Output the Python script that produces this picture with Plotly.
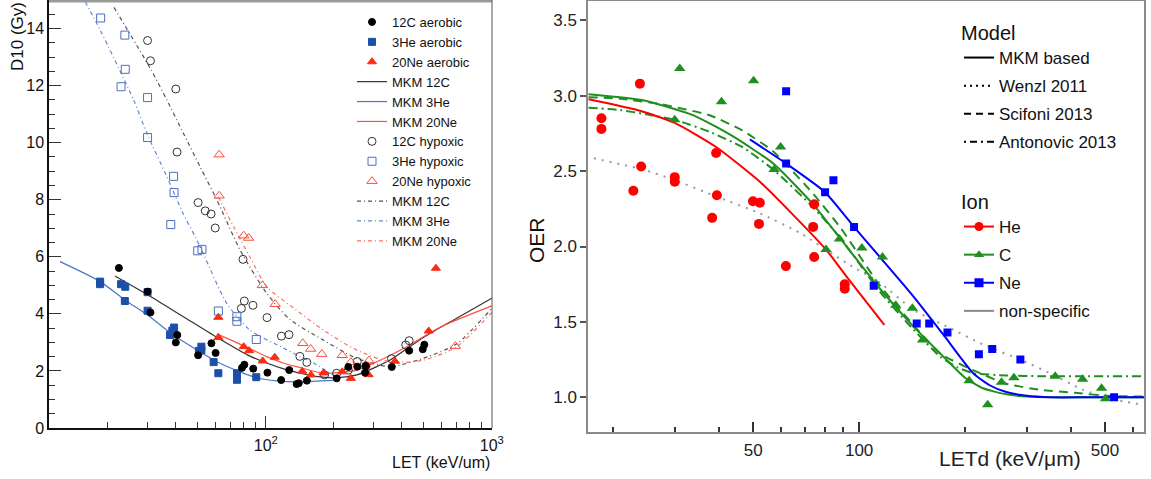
import plotly.graph_objects as go

# ---------------- Left panel: D10 vs LET ----------------
c12_aer_let = [22.4, 30, 30.9, 40.6, 40, 50.2, 57.5, 60, 78.5, 80.4, 88, 101.7, 117, 127, 137, 140, 152, 206, 232, 254, 275, 277, 361, 431, 495, 503]
c12_aer_d10 = [5.61, 4.78, 4.05, 3.26, 3.0, 2.55, 2.97, 2.63, 2.11, 2.22, 2.08, 1.94, 1.68, 2.03, 1.54, 1.57, 1.66, 1.74, 2.14, 2.15, 1.94, 2.17, 2.14, 2.71, 2.76, 2.92]

he3_aer_let = [18.5, 18.5, 22.9, 23.9, 23.8, 30, 30, 39.3, 38.6, 37.7, 50.6, 51.9, 51.9, 58.8, 61.7, 74.6, 74.6, 90.8]
he3_aer_d10 = [5.13, 5.04, 5.04, 4.95, 4.45, 4.76, 4.11, 3.52, 3.41, 3.26, 2.70, 2.85, 2.73, 2.31, 1.92, 1.92, 1.69, 1.78]

ne20_aer_let = [61.7, 61.7, 79.9, 84.4, 97, 109.6, 145, 158.5, 180, 218, 238, 277, 285, 373, 526, 566]
ne20_aer_d10 = [3.88, 3.17, 2.85, 2.71, 2.35, 2.48, 1.99, 1.86, 1.93, 1.97, 1.74, 2.21, 1.87, 2.34, 3.40, 5.60]

c12_hyp_let = [30, 30.9, 40, 40.5, 50.2, 54, 57.3, 59.8, 79.3, 80.4, 78, 87.8, 101.3, 117.3, 126.7, 141.5, 152, 182, 206, 232, 254, 277, 360, 416, 431]
c12_hyp_d10 = [13.58, 12.87, 11.88, 9.67, 7.90, 7.61, 7.50, 7.01, 5.91, 4.45, 4.19, 4.30, 3.87, 3.22, 3.27, 2.51, 2.30, 1.86, 1.92, 2.03, 2.33, 2.17, 2.43, 2.91, 3.06]

he3_hyp_let = [18.6, 23.8, 23.9, 22.9, 30, 30, 39.1, 39.3, 38, 50, 52.2, 61.7, 74.5, 74.5, 90.8]
he3_hyp_d10 = [14.37, 13.77, 12.57, 11.96, 11.58, 10.18, 8.82, 8.25, 7.13, 6.21, 6.26, 4.10, 3.90, 3.74, 3.10]

ne20_hyp_let = [62.2, 62.2, 79.9, 84, 96.6, 110, 145.8, 158, 177, 218, 238, 286, 690]
ne20_hyp_d10 = [9.58, 8.14, 6.74, 6.66, 5.00, 4.34, 2.97, 2.77, 2.59, 2.55, 2.31, 2.36, 2.87]

# MKM model curves
mkm_c12_aer_let = [21.5, 30.8, 43.2, 60.7, 85.2, 120, 142, 170, 199, 253, 310, 355, 500, 700, 1000]
mkm_c12_aer_d10 = [5.33, 4.62, 3.90, 3.18, 2.52, 2.07, 1.92, 1.80, 1.76, 1.86, 2.15, 2.38, 3.18, 3.85, 4.55]
mkm_he3_aer_let = [12.3, 18.5, 23.8, 30, 39, 51.2, 60.7, 74.6, 91.2, 112, 142, 199]
mkm_he3_aer_d10 = [5.83, 5.13, 4.49, 3.96, 3.26, 2.67, 2.32, 2.01, 1.76, 1.65, 1.62, 1.67]
mkm_ne20_aer_let = [60.7, 80, 101, 120, 142, 180, 253, 310, 420, 590, 1000]
mkm_ne20_aer_d10 = [3.30, 2.88, 2.50, 2.27, 2.12, 1.92, 2.03, 2.32, 2.85, 3.53, 4.28]

mkm_c12_hyp_let = [21.3, 30.8, 36.5, 43.2, 51.2, 60.7, 77, 101, 128, 180, 253, 355, 500, 700, 1000]
mkm_c12_hyp_d10 = [14.74, 12.61, 11.5, 10.33, 9.16, 8.0, 6.24, 4.72, 3.8, 3.08, 2.44, 2.15, 2.45, 2.95, 4.19]
mkm_he3_hyp_let = [15.9, 18.5, 26, 29.8, 36.5, 43.2, 48.7, 53, 67.2, 85.2, 120, 142, 157, 199]
mkm_he3_hyp_d10 = [14.94, 13.95, 11.5, 10.33, 8.81, 7.5, 6.71, 6.1, 4.37, 3.43, 2.8, 2.5, 2.35, 1.85]
mkm_ne20_hyp_let = [61.7, 72, 85, 101, 128, 180, 253, 355, 500, 700, 1000]
mkm_ne20_hyp_d10 = [8.1, 7.06, 6.0, 4.95, 4.3, 3.43, 2.73, 2.32, 2.38, 2.85, 4.05]

left_tick_vals = [100, 1000]
left_tick_text = ["10<sup>2</sup>", "10<sup>3</sup>"]
left_minor_vals = [20, 30, 40, 50, 60, 70, 80, 90, 200, 300, 400, 500, 600, 700, 800, 900]

# ---------------- Right panel: OER vs LETd ----------------
he_let = [18.5, 18.5, 23.8, 24, 22.8, 29.9, 29.9, 39.2, 39.4, 38.2, 49.9, 52.2, 51.9, 61.9, 74.5, 74, 74.5, 91, 91]
he_oer = [2.85, 2.78, 3.08, 2.53, 2.37, 2.46, 2.43, 2.62, 2.34, 2.19, 2.30, 2.29, 2.15, 1.87, 2.28, 2.13, 1.93, 1.75, 1.72]

c_let = [30.9, 29.9, 40.6, 50.1, 59.8, 57.3, 80.5, 87.9, 101.8, 116.5, 127.1, 141.7, 151.5, 205.5, 232, 254, 275.5, 361, 432, 489, 502]
c_oer = [3.18, 2.84, 2.96, 3.10, 2.66, 2.51, 1.98, 2.05, 1.99, 1.93, 1.61, 1.59, 1.38, 1.11, 0.95, 1.10, 1.13, 1.14, 1.12, 1.06, 0.99]

ne_let = [62, 62, 84.5, 80, 96.7, 110, 145.8, 158.2, 178.3, 219, 239, 287.4, 531]
ne_oer = [3.03, 2.55, 2.44, 2.36, 2.13, 1.74, 1.49, 1.49, 1.43, 1.285, 1.32, 1.25, 1.00]

mkm_he_let = [17.0, 23.8, 29.9, 39.2, 52.2, 64.9, 80.5, 92.1, 117.9]
mkm_he_oer = [2.976, 2.90, 2.82, 2.66, 2.43, 2.21, 1.98, 1.80, 1.48]
mkm_c_let = [17.0, 24.3, 33.8, 43.8, 57, 74, 92.1, 114.6, 142.6, 177, 200, 225, 262, 300, 350, 450, 646]
mkm_c_oer = [3.01, 2.97, 2.87, 2.73, 2.55, 2.28, 2.00, 1.72, 1.47, 1.25, 1.13, 1.06, 1.02, 1.005, 1.0, 1.0, 1.0]
mkm_ne_let = [48.9, 62, 80, 96.7, 114.6, 142.6, 173, 211, 235, 262, 300, 350, 450, 646]
mkm_ne_oer = [2.71, 2.55, 2.36, 2.13, 1.93, 1.67, 1.42, 1.16, 1.08, 1.035, 1.01, 1.0, 1.0, 1.0]
wenzl_let = [17.6, 24.3, 29.9, 39.4, 52.2, 67.9, 92.1, 114.6, 142.6, 181, 225, 287, 349, 433, 520, 643]
wenzl_oer = [2.585, 2.51, 2.44, 2.33, 2.22, 2.09, 1.89, 1.76, 1.58, 1.46, 1.35, 1.25, 1.16, 1.05, 0.99, 0.95]
scifoni_let = [17.0, 20.9, 27.1, 37.6, 46.5, 57, 74, 88.2, 114.6, 142.6, 170, 211, 262, 327, 411, 505, 646]
scifoni_oer = [2.99, 2.98, 2.945, 2.87, 2.77, 2.63, 2.35, 2.13, 1.74, 1.48, 1.29, 1.18, 1.09, 1.05, 1.03, 1.01, 1.005]
antonovic_let = [17.0, 20.9, 29.9, 37.6, 46.5, 57, 74, 88.2, 114.6, 142.6, 170, 190, 211, 262, 327, 646]
antonovic_oer = [2.92, 2.905, 2.84, 2.76, 2.66, 2.51, 2.26, 2.06, 1.70, 1.45, 1.27, 1.20, 1.16, 1.145, 1.14, 1.14]

right_tick_vals = [50, 100, 500]
right_tick_text = ["50", "100", "500"]
right_minor_vals = [20, 30, 40, 60, 70, 80, 90, 200, 300, 400, 600]

model_names = ["MKM based", "Wenzl 2011", "Scifoni 2013", "Antonovic 2013"]
ion_names = ["He", "C", "Ne", "non-specific"]

FONT = "Liberation Sans, Arial, Helvetica, sans-serif"
W, H = 1151, 479

fig = go.Figure()

# ---- left: model lines first (drawn under the markers) ----
def lline(x, y, color, name, rank, dash="solid", width=1.2):
    fig.add_trace(go.Scatter(x=x, y=y, mode="lines", name=name, legendrank=rank,
                             line=dict(color=color, width=width, dash=dash, shape="spline", smoothing=0.7),
                             xaxis="x", yaxis="y", legend="legend"))

DD = "4px,3px,1px,3px"
lline(mkm_c12_aer_let, mkm_c12_aer_d10, "#333333", "MKM 12C", 4)
lline(mkm_he3_aer_let, mkm_he3_aer_d10, "#4a77c9", "MKM 3He", 5)
lline(mkm_ne20_aer_let, mkm_ne20_aer_d10, "#ff5040", "MKM 20Ne", 6)
lline(mkm_c12_hyp_let, mkm_c12_hyp_d10, "#555555", "MKM 12C ", 10, DD)
lline(mkm_he3_hyp_let, mkm_he3_hyp_d10, "#5f87d6", "MKM 3He ", 11, DD)
lline(mkm_ne20_hyp_let, mkm_ne20_hyp_d10, "#ff6e60", "MKM 20Ne ", 12, DD)

def lpts(x, y, color, symbol, name, rank, size=7):
    fig.add_trace(go.Scatter(x=x, y=y, mode="markers", name=name, legendrank=rank,
                             marker=dict(color=color, symbol=symbol, size=size, line=dict(width=1, color=color)),
                             xaxis="x", yaxis="y", legend="legend"))

lpts(c12_hyp_let, c12_hyp_d10, "#333333", "circle-open", "12C hypoxic", 7, 8)
lpts(he3_hyp_let, he3_hyp_d10, "#4a6fc0", "square-open", "3He hypoxic", 8, 8)
lpts(ne20_hyp_let, ne20_hyp_d10, "#ff4a3a", "triangle-up-open", "20Ne hypoxic", 9, 9)
lpts(he3_aer_let, he3_aer_d10, "#1c4fa8", "square", "3He aerobic", 2, 7)
lpts(ne20_aer_let, ne20_aer_d10, "#ff2a12", "triangle-up", "20Ne aerobic", 3, 8)
lpts(c12_aer_let, c12_aer_d10, "#000000", "circle", "12C aerobic", 1, 7)

# ---- right: curves ----
RED, GREEN, BLUE, GRAY = "#ff0000", "#1f8f1f", "#0000ff", "#999999"

def rline(x, y, color, dash="solid"):
    fig.add_trace(go.Scatter(x=x, y=y, mode="lines", showlegend=False,
                             line=dict(color=color, width=2, dash=dash, shape="spline", smoothing=0.55),
                             xaxis="x2", yaxis="y2"))

rline(wenzl_let, wenzl_oer, GRAY, "2px,6px")
rline(scifoni_let, scifoni_oer, GREEN, "9px,6px")
rline(antonovic_let, antonovic_oer, GREEN, "9px,4px,2px,4px")
rline(mkm_c_let, mkm_c_oer, GREEN)
rline(mkm_ne_let, mkm_ne_oer, BLUE)
rline(mkm_he_let, mkm_he_oer, RED)

def rpts(x, y, color, symbol, size):
    fig.add_trace(go.Scatter(x=x, y=y, mode="markers", showlegend=False,
                             marker=dict(color=color, symbol=symbol, size=size, line=dict(width=0)),
                             xaxis="x2", yaxis="y2"))

rpts(he_let, he_oer, RED, "circle", 10)
rpts(c_let, c_oer, GREEN, "triangle-up", 10)
rpts(ne_let, ne_oer, BLUE, "square", 8)

# ---- right legends (legend-only entries) ----
for i, (nm, ds) in enumerate(zip(model_names, ["solid", "2px,4px", "7px,5px", "2px,4px,7px,4px"])):
    fig.add_trace(go.Scatter(x=[None], y=[None], mode="lines", name=nm, legendgroup="m%d" % i,
                             line=dict(color="#000000", width=2, dash=ds),
                             xaxis="x2", yaxis="y2", legend="legend2"))
for i, (nm, col, sym) in enumerate(zip(ion_names, [RED, GREEN, BLUE, "#888888"],
                                      ["circle", "triangle-up", "square", None])):
    if sym:
        fig.add_trace(go.Scatter(x=[None], y=[None], mode="lines+markers", name=nm, legendgroup="i%d" % i,
                                 line=dict(color=col, width=2), marker=dict(symbol=sym, size=9, color=col),
                                 xaxis="x2", yaxis="y2", legend="legend3"))
    else:
        fig.add_trace(go.Scatter(x=[None], y=[None], mode="lines", name=nm, legendgroup="i%d" % i,
                                 line=dict(color=col, width=2),
                                 xaxis="x2", yaxis="y2", legend="legend3"))

px = lambda v: v / W
py = lambda v: 1 - v / H

fig.update_layout(
    width=W, height=H,
    margin=dict(l=0, r=0, t=0, b=0, autoexpand=False),
    paper_bgcolor="white", plot_bgcolor="white",
    font=dict(family=FONT, color="#111111"),
    xaxis=dict(type="log", domain=[px(49), px(492)], range=[1.041, 3.001],
               showline=True, linecolor="#111111", linewidth=1.5, showgrid=False, zeroline=False,
               ticks="inside", ticklen=12, tickwidth=1, tickcolor="#333333",
               tickmode="array", tickvals=left_tick_vals, ticktext=left_tick_text,
               tickfont=dict(size=16, family=FONT, color="#111111"), ticklabelstandoff=2,
               minor=dict(tickmode="array", tickvals=left_minor_vals, ticks="inside", ticklen=6,
                          tickcolor="#333333", showgrid=False),
               anchor="y"),
    yaxis=dict(domain=[py(428), 1.0], range=[0, 15],
               showline=True, linecolor="#111111", linewidth=1.5, showgrid=False, zeroline=False,
               ticks="inside", ticklen=12, tickwidth=1, tickcolor="#333333",
               tickmode="linear", tick0=0, dtick=2,
               tickfont=dict(size=16, family=FONT, color="#111111"),
               minor=dict(dtick=0.5, ticks="inside", ticklen=6, tickcolor="#333333", showgrid=False),
               anchor="x"),
    xaxis2=dict(type="log", domain=[px(588), px(1144)], range=[1.229, 2.810],
                showline=True, mirror=True, linecolor="#8a8a8a", linewidth=1.5,
                showgrid=False, zeroline=False,
                ticks="inside", ticklen=10, tickwidth=1.5, tickcolor="#333333",
                tickmode="array", tickvals=right_tick_vals, ticktext=right_tick_text,
                tickfont=dict(size=17, family=FONT, color="#222222"), ticklabelstandoff=2,
                minor=dict(tickmode="array", tickvals=right_minor_vals, ticks="inside", ticklen=5,
                           tickwidth=1.5, tickcolor="#333333", showgrid=False),
                anchor="y2"),
    yaxis2=dict(domain=[py(431.7), py(1)], range=[0.772, 3.628],
                showline=True, mirror=True, linecolor="#8a8a8a", linewidth=1.5,
                showgrid=False, zeroline=False,
                ticks="outside", ticklen=6, tickwidth=1.5, tickcolor="#555555",
                tickmode="array", tickvals=[1.0, 1.5, 2.0, 2.5, 3.0, 3.5],
                ticktext=["1.0", "1.5", "2.0", "2.5", "3.0", "3.5"],
                tickfont=dict(size=17, family=FONT, color="#222222"),
                anchor="x2"),
    legend=dict(x=px(352), y=py(7), xanchor="left", yanchor="top",
                bgcolor="rgba(0,0,0,0)", font=dict(size=13, family=FONT, color="#111111"),
                tracegroupgap=0, itemwidth=30),
    legend2=dict(x=px(959), y=py(14), xanchor="left", yanchor="top",
                 bgcolor="rgba(0,0,0,0)", font=dict(size=17, family=FONT, color="#111111"),
                 title=dict(text="Model", font=dict(size=20, family=FONT, color="#111111")),
                 tracegroupgap=3, itemwidth=30),
    legend3=dict(x=px(959), y=py(183), xanchor="left", yanchor="top",
                 bgcolor="rgba(0,0,0,0)", font=dict(size=17, family=FONT, color="#111111"),
                 title=dict(text="Ion", font=dict(size=20, family=FONT, color="#111111")),
                 tracegroupgap=3, itemwidth=30),
    shapes=[
        dict(type="line", xref="paper", yref="paper", x0=px(49), x1=px(492), y0=py(1), y1=py(1),
             line=dict(color="#9a9a9a", width=3)),
        dict(type="line", xref="paper", yref="paper", x0=px(492), x1=px(492), y0=py(0), y1=py(428),
             line=dict(color="#555555", width=1)),
    ],
    annotations=[
        dict(text="D10 (Gy)", xref="paper", yref="paper", x=px(17), y=py(37), textangle=-90,
             showarrow=False, font=dict(size=17, family=FONT, color="#111111"),
             xanchor="center", yanchor="middle"),
        dict(text="LET (keV/um)", xref="paper", yref="paper", x=px(492), y=py(462),
             showarrow=False, font=dict(size=16, family=FONT, color="#111111"),
             xanchor="right", yanchor="middle"),
        dict(text="OER", xref="paper", yref="paper", x=px(536), y=py(240), textangle=-90,
             showarrow=False, font=dict(size=21, family=FONT, color="#111111"),
             xanchor="center", yanchor="middle"),
        dict(text="LETd (keV/μm)", xref="paper", yref="paper", x=px(1010), y=py(458),
             showarrow=False, font=dict(size=21, family=FONT, color="#222222"),
             xanchor="center", yanchor="middle"),
    ],
)

# remove the browser's default 8px body margin so the figure sits at the page origin
fig.write_html("out.html", config={"displayModeBar": False},
               post_script="document.body.style.margin='0px';document.body.style.overflow='hidden';")
